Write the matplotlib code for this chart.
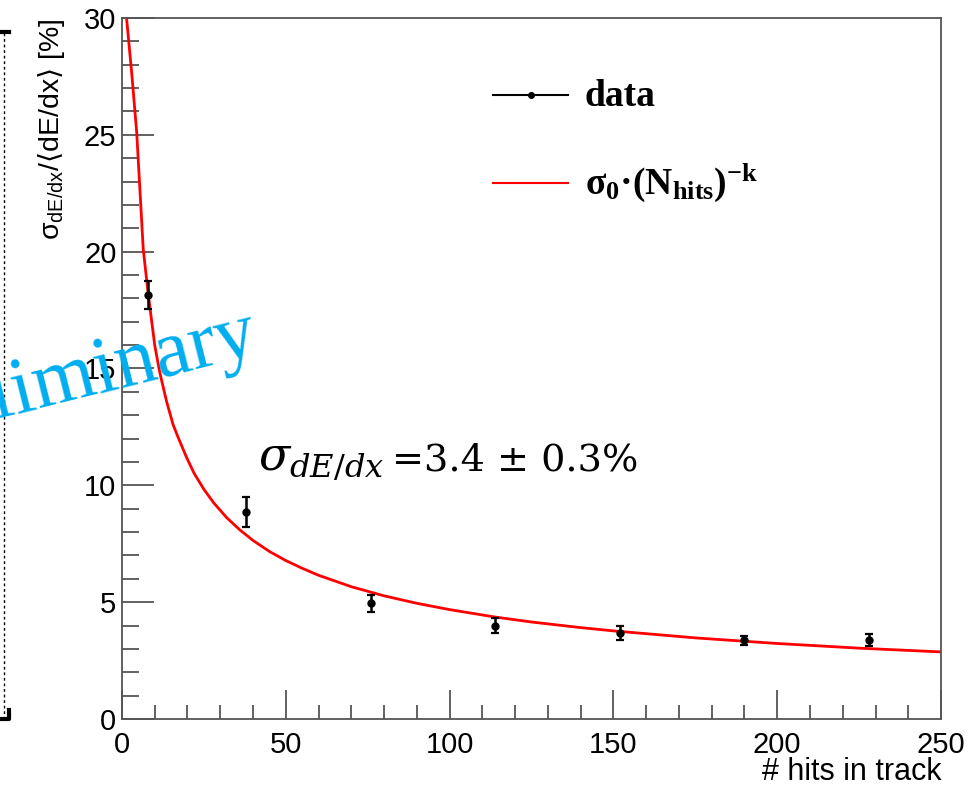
import numpy as np
import matplotlib.pyplot as plt
from matplotlib.lines import Line2D
from matplotlib.ticker import MultipleLocator

plt.rcParams['font.family'] = ['Liberation Sans', 'DejaVu Sans']
plt.rcParams['mathtext.fontset'] = 'custom'
plt.rcParams['mathtext.rm'] = 'DejaVu Serif'
plt.rcParams['mathtext.it'] = 'DejaVu Serif:italic'
plt.rcParams['mathtext.bf'] = 'Liberation Serif:bold'
plt.rcParams['mathtext.sf'] = 'Liberation Sans'
plt.rcParams['mathtext.fallback'] = 'stix'

# measured points
hits = [8, 38, 76, 114, 152, 190, 228]
sigma = [18.15, 8.84, 4.95, 3.98, 3.68, 3.36, 3.38]
sigma_err = [0.6, 0.64, 0.37, 0.32, 0.28, 0.2, 0.25]

# fit curve
fit_x = [1.4, 3.0, 4.5, 5.5, 6.5, 8, 10, 11.3, 12, 13.6, 15.6, 17, 19.7, 22, 25,
         28, 32, 36, 40, 45, 50, 55, 60, 70, 80, 90, 100, 114, 125, 140, 150,
         175, 200, 225, 250]
fit_y = [30, 27.6, 25.1, 22.6, 20.1, 18.2, 16.0, 15.0, 14.55, 13.6, 12.6, 12.1, 11.2,
         10.52, 9.83, 9.25, 8.61, 8.09, 7.64, 7.17, 6.78, 6.45, 6.15, 5.66, 5.27, 4.95,
         4.68, 4.36, 4.15, 3.91, 3.77, 3.47, 3.23, 3.03, 2.87]

fig = plt.figure(figsize=(9.78, 7.88), dpi=100)
ax = fig.add_axes([0.1247, 0.0876, 0.8375, 0.8896])

ax.plot(fit_x, fit_y, color='red', lw=2, zorder=2)
ax.errorbar(hits, sigma, yerr=sigma_err, fmt='o', color='black', ms=5,
            elinewidth=1.8, capsize=3, capthick=1.6, zorder=3)

ax.set_xlim(0, 250)
ax.set_ylim(0, 30)
ax.xaxis.set_major_locator(MultipleLocator(50))
ax.xaxis.set_minor_locator(MultipleLocator(10))
ax.yaxis.set_major_locator(MultipleLocator(5))
ax.yaxis.set_minor_locator(MultipleLocator(1))
ax.tick_params(which='both', direction='in', color='#555555', width=1.3,
               labelsize=21, top=False, right=False)
ax.tick_params(axis='y', which='major', length=23, pad=4)
ax.tick_params(axis='y', which='minor', length=12)
ax.tick_params(axis='x', which='major', length=21, pad=9)
ax.tick_params(axis='x', which='minor', length=10)
for s in ax.spines.values():
    s.set_color('#555555')
    s.set_linewidth(1.3)

ax.set_xlabel('# hits in track', fontsize=22, loc='right', labelpad=-2)
ax.set_ylabel(r'σ$_{\mathsf{dE/dx}}$/$\langle$dE/dx$\rangle$ [%]', fontsize=20.5,
              loc='top', labelpad=12)

# legend drawn by hand
ax.add_line(Line2D([0.453, 0.545], [0.890, 0.890], transform=ax.transAxes,
                   color='black', lw=1.5))
ax.plot([0.499], [0.890], 'o', color='black', ms=4, transform=ax.transAxes)
ax.add_line(Line2D([0.453, 0.545], [0.765, 0.765], transform=ax.transAxes,
                   color='red', lw=1.5))
ax.text(0.565, 0.888, 'data', transform=ax.transAxes, fontsize=27,
        family='Liberation Serif', weight='bold', va='center', ha='left')
ax.text(0.565, 0.765, r'$\mathbf{\sigma_0·(N_{hits})^{-k}}$',
        transform=ax.transAxes, fontsize=27, va='center', ha='left')

ax.text(41.5, 10.65, r'$\sigma_{dE/dx}$', fontsize=33,
        family='DejaVu Serif', va='baseline', ha='left')
ax.text(82.5, 10.65, '=3.4 ± 0.3%', fontsize=27.5,
        family='DejaVu Serif', va='baseline', ha='left')

fig.text(0.2668, 0.5533, 'Preliminary', color='#00AEEF', fontsize=58,
         family='Liberation Serif', rotation=14, rotation_mode='anchor',
         ha='right', va='baseline')

# leftover frame from the slide
fig.add_artist(Line2D([0.0045, 0.0045], [1 - 33 / 788, 1 - 718 / 788],
                      transform=fig.transFigure, color='black', lw=1,
                      linestyle=(0, (2, 2))))
fig.add_artist(Line2D([0, 0.009], [1 - 32 / 788, 1 - 32 / 788],
                      transform=fig.transFigure, color='black', lw=3))
fig.add_artist(Line2D([0, 0.009, 0.009], [1 - 719 / 788, 1 - 719 / 788, 1 - 710 / 788],
                      transform=fig.transFigure, color='black', lw=3))

fig.savefig('out.png', dpi=100)
